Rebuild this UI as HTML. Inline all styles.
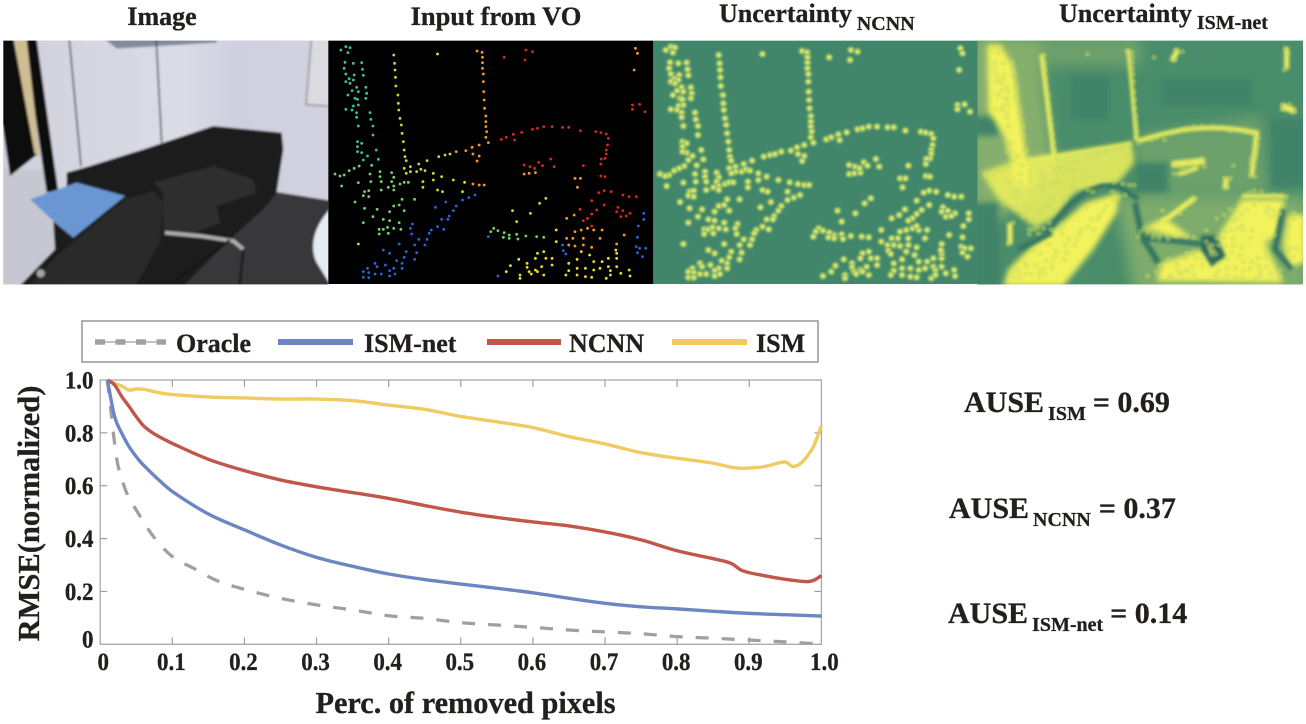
<!DOCTYPE html>
<html>
<head>
<meta charset="utf-8">
<style>
html,body{margin:0;padding:0;background:#fff;width:1306px;height:724px;overflow:hidden}
svg{display:block;position:absolute;left:0;top:0}
text{font-family:"Liberation Serif",serif;font-weight:bold;fill:#231f1c;stroke:#231f1c;stroke-width:.3}
</style>
</head>
<body>
<svg id="root" width="1306" height="724" viewBox="0 0 1306 724" xmlns="http://www.w3.org/2000/svg">
<defs>
<filter id="b1" x="-5%" y="-5%" width="110%" height="110%"><feGaussianBlur stdDeviation="1.6"/></filter>
<filter id="b4" x="-5%" y="-5%" width="110%" height="110%"><feGaussianBlur stdDeviation="3.5"/></filter>
<filter id="b5" x="-5%" y="-5%" width="110%" height="110%"><feGaussianBlur stdDeviation="5"/></filter>
<filter id="b9" x="-5%" y="-5%" width="110%" height="110%"><feGaussianBlur stdDeviation="9"/></filter>
<filter id="b20" x="-30%" y="-30%" width="160%" height="160%"><feGaussianBlur stdDeviation="20"/></filter>
<clipPath id="cp1"><rect x="10" y="14" width="975" height="731"/></clipPath>
<clipPath id="cp4"><rect x="8" y="14" width="976" height="731"/></clipPath>
<clipPath id="cpDots"><rect x="2348" y="122" width="780" height="730"/></clipPath>
<linearGradient id="wall" x1="0" y1="0" x2="1" y2="0"><stop offset="0" stop-color="#cfd0dc"/><stop offset=".55" stop-color="#dcdce6"/><stop offset=".7" stop-color="#cfcfdf"/><stop offset="1" stop-color="#d2d2e0"/></linearGradient>
</defs>

<g>
<text x="162" y="25" font-size="26" text-anchor="middle">Image</text>
<text x="496" y="25" font-size="26.5" text-anchor="middle">Input from VO</text>
<text x="719" y="22" font-size="26">Uncertainty<tspan font-size="20" dx="5" dy="8">NCNN</tspan></text>
<text x="1059" y="22" font-size="26">Uncertainty<tspan font-size="20" dx="5" dy="7">ISM-net</tspan></text>
</g>

<g transform="translate(0,36) scale(0.33333)" clip-path="url(#cp1)">
 <rect x="0" y="0" width="1000" height="760" fill="url(#wall)"/>
 <g filter="url(#b4)">
  <rect x="-20" y="-20" width="1040" height="800" fill="url(#wall)"/>
  <path d="M-20 400H170L200 780H-20Z" fill="#c6c7d0"/>
  <path d="M290 -10H655L650 20L350 38Z" fill="#858b9e"/>
  <path d="M207 0L243 390M468 0L485 320" stroke="#55555b" stroke-width="5" fill="none"/>
  <path d="M935 0L918 206L1010 212V0Z" fill="#dadae0" stroke="#a0a1a6" stroke-width="6"/>
  <path d="M-5 -5H72L112 355L30 420L8 270L-5 260Z" fill="#0f0d11"/>
  <path d="M70 -5H108L174 462L140 470Z" fill="#0f0d11"/>
  <path d="M38 -5H78L120 362L104 352Z" fill="#cfbe94"/>
  <path d="M830 468L1010 497V780H480L690 600L800 510Z" fill="#39393b"/>
  <path d="M200 410L270 390L430 340L640 270L845 290L850 340L830 470L800 510L690 610L520 780H30L165 640L160 560L200 450Z" fill="#1f1d1f"/>
  <path d="M460 440L640 390L760 430L770 470L650 510L490 470Z" fill="#2f2d2f"/>
  <path d="M490 470L650 510L660 560L560 600L490 580Z" fill="#2f2d2f"/>
  <path d="M90 490L230 440L375 480L220 605L165 560Z" fill="#6b97d4"/>
  <path d="M170 660L375 490L460 465L490 500L480 620L390 780H60Z" fill="#2c2a2b"/>
  <path d="M495 590L600 600L700 615L730 640" fill="none" stroke="#b0b0b0" stroke-width="11"/>
  <path d="M730 640L718 760M520 738L690 612" fill="none" stroke="#131313" stroke-width="7"/>
  <path d="M1000 510C945 560 925 630 950 680L1000 760Z" fill="#e6ecf3"/>
  <circle cx="122" cy="712" r="12" fill="#a5a5a3"/>
 </g>
</g>

<g transform="scale(0.416667,0.333333)">
  <rect x="788" y="122" width="780" height="730" fill="#000"/>
  <g id="voDots"></g>
  <rect x="1568" y="122" width="780" height="730" fill="#41866a"/>
  <g id="ncnnDots" filter="url(#b1)"></g>
</g>

<g transform="translate(975,36) scale(0.33333)" clip-path="url(#cp4)">
  <rect x="0" y="0" width="1000" height="760" fill="#4a8d6b"/>
  <g filter="url(#b20)" fill="#8fb56c">
    <path d="M-20 0H190L240 420L60 560H-20Z" opacity=".85"/>
    <path d="M190 0H500V90H190Z" opacity=".5"/>
    <path d="M470 300L860 240L880 470L500 470Z" opacity=".5"/>
    <path d="M420 480L1000 480V780H480Z" opacity=".75"/>
  </g>
  <g filter="url(#b9)" fill="#3f8369">
    <path d="M290 120H400V250H290Z"/><path d="M560 130H830V210H560Z"/><path d="M480 380H580V470H480Z"/>
    <path d="M890 250H1010V450H890Z"/><path d="M-20 500H70V780H-20Z"/><path d="M-20 240H70V300H-20Z"/>
  </g>
  <g filter="url(#b9)" fill="#f2f25c">
    <path d="M36 26H76L116 90L136 230L156 370L175 445L125 445L88 300L40 225Z"/>
    <path d="M20 410L130 370L470 320L478 380L430 440L300 470L240 545L180 575L70 490Z" opacity=".85"/>
    <path d="M85 750L100 700L170 630L260 560L330 500L435 468L425 530L355 640L265 750Z"/>
    <path d="M545 735L560 680L680 640L740 670L730 600L800 490L930 490L905 600L870 620L925 740Z"/>
    <path d="M505 575L600 605L650 605L570 545Z"/>
    <path d="M940 535H990V680L940 695L925 620Z"/>
  </g>
  <g filter="url(#b5)" fill="none" stroke="#eef05e">
    <path d="M200 55L240 385" stroke-width="14"/>
    <path d="M460 40L485 315" stroke-width="11"/>
    <path d="M490 315C600 280 700 260 845 290L830 420" stroke-width="14"/>
    <path d="M130 380L470 322" stroke-width="9"/>
    <path d="M935 35V100" stroke-width="15"/>
    <path d="M610 40L590 75" stroke-width="16"/>
    <path d="M920 210L960 225" stroke-width="20"/>
    <path d="M590 385L690 375" stroke-width="20"/>
    <path d="M610 415L670 395" stroke-width="12"/>
    <path d="M755 425L750 460" stroke-width="16"/>
    <path d="M660 485L560 560" stroke-width="16"/>
    <path d="M105 560V625" stroke-width="16"/>
    <path d="M800 480L930 480" stroke-width="12"/>
  </g>
  <g filter="url(#b5)" fill="none" stroke="#347462">
    <path d="M210 590L290 500L330 470L380 450L430 450L490 490" stroke-width="15"/>
    <path d="M130 640L230 590" stroke-width="16"/>
    <path d="M500 605L690 625" stroke-width="15"/>
    <path d="M925 520L900 640L950 700" stroke-width="16"/>
    <path d="M480 500L500 600L550 680" stroke-width="18"/>
    <path d="M680 600H720L750 660L710 690L680 640Z" fill="#2f6a5c" stroke-width="4"/>
    <path d="M700 625L712 660" stroke="#b8d06a" stroke-width="8"/>
  </g>
</g>

<g transform="scale(0.416667,0.333333)" clip-path="url(#cpDots)">
  <g id="ismDots" filter="url(#b1)"></g>
</g>

<g id="chart"></g>

<g>
<rect x="82" y="321" width="736" height="41" fill="#fff" stroke="#969696" stroke-width="1.5"/>
<line x1="95" y1="342" x2="166" y2="342" stroke="#a0a0a0" stroke-width="1.2"/>
<line x1="95" y1="342" x2="166" y2="342" stroke="#a0a0a0" stroke-width="5.5" stroke-dasharray="10 10.5"/>
<text x="176" y="352" font-size="26">Oracle</text>
<line x1="278" y1="342" x2="353" y2="342" stroke="#6c86c4" stroke-width="6"/>
<text x="364" y="352" font-size="26">ISM-net</text>
<line x1="487" y1="342" x2="561" y2="342" stroke="#c0574a" stroke-width="6"/>
<text x="569" y="352" font-size="26">NCNN</text>
<line x1="672" y1="342" x2="747" y2="342" stroke="#f0cb62" stroke-width="6"/>
<text x="756" y="352" font-size="26">ISM</text>
</g>

<g>
<text x="964" y="412" font-size="30">AUSE<tspan font-size="20" dx="4" dy="8">ISM</tspan><tspan dx="7" dy="-8">= 0.69</tspan></text>
<text x="949" y="518" font-size="30">AUSE<tspan font-size="20" dx="4" dy="8">NCNN</tspan><tspan dx="8" dy="-8">= 0.37</tspan></text>
<text x="948" y="623" font-size="30">AUSE<tspan font-size="20" dx="4" dy="8">ISM-net</tspan><tspan dx="7" dy="-8">= 0.14</tspan></text>
</g>
</svg>

<script>
// Chart data
const xTicks = [0, 0.1, 0.2, 0.3, 0.4, 0.5, 0.6, 0.7, 0.8, 0.9, 1.0];
const xTickLabels = ['0', '0.1', '0.2', '0.3', '0.4', '0.5', '0.6', '0.7', '0.8', '0.9', '1.0'];
const yTicks = [0, 0.2, 0.4, 0.6, 0.8, 1.0];
const yTickLabels = ['0', '0.2', '0.4', '0.6', '0.8', '1.0'];

const oracleX = [0.01,0.015,0.02,0.025,0.037,0.05,0.074,0.1,0.13,0.16,0.2,0.25,0.3,0.35,0.4,0.45,0.5,0.55,0.6,0.65,0.7,0.75,0.8,0.85,0.9,0.95,1.0];
const oracleY = [1,0.88,0.76,0.672,0.571,0.508,0.407,0.332,0.287,0.243,0.208,0.174,0.149,0.13,0.108,0.098,0.082,0.073,0.064,0.054,0.047,0.04,0.029,0.023,0.016,0.009,0.001];

const ismNetX = [0.01,0.02,0.03,0.04,0.05,0.06,0.08,0.1,0.15,0.2,0.25,0.3,0.35,0.4,0.45,0.5,0.55,0.6,0.65,0.7,0.75,0.8,0.85,0.9,0.95,1.0];
const ismNetY = [1,0.861,0.798,0.748,0.71,0.678,0.625,0.578,0.493,0.433,0.376,0.329,0.295,0.266,0.245,0.228,0.212,0.195,0.174,0.155,0.142,0.134,0.125,0.117,0.112,0.107];

const ncnnX = [0.01,0.02,0.03,0.04,0.05,0.06,0.07,0.08,0.1,0.15,0.2,0.25,0.3,0.35,0.4,0.45,0.5,0.55,0.6,0.65,0.7,0.75,0.8,0.85,0.875,0.89,0.92,0.95,0.98,0.99,1.0];
const ncnnY = [1,0.981,0.937,0.9,0.861,0.827,0.805,0.788,0.76,0.7,0.657,0.622,0.596,0.574,0.552,0.525,0.5,0.48,0.463,0.448,0.425,0.395,0.354,0.324,0.306,0.279,0.26,0.246,0.237,0.243,0.26];

const ismX = [0.01,0.02,0.03,0.04,0.05,0.06,0.08,0.1,0.15,0.2,0.25,0.3,0.35,0.4,0.45,0.5,0.55,0.6,0.65,0.7,0.75,0.8,0.85,0.875,0.89,0.92,0.95,0.96,0.97,0.98,0.99,1.0];
const ismY = [1,0.987,0.977,0.962,0.966,0.965,0.953,0.945,0.936,0.932,0.928,0.928,0.922,0.905,0.889,0.862,0.842,0.82,0.786,0.758,0.725,0.704,0.685,0.67,0.666,0.672,0.69,0.673,0.682,0.71,0.754,0.827];

// VO sample points, grouped by colour (photo-panel decoration)
const tealPts = "830,140 840,143 818,150 835,158 828,187 848,190 868,188 826,205 870,208 830,222 850,225 872,226 838,236 830,245 848,240 840,250 856,262 878,262 845,272 860,275 880,280 835,285 852,295 878,295 858,298 860,315 848,318 830,328 845,330 888,338 856,338 856,352 890,358 860,378 895,378 895,405 858,425 868,430 858,440 868,458 858,455 903,450 882,468 872,480 908,478";
const greenPts = "862,498 850,505 838,512 826,525 804,522 816,528 888,522 892,496 912,515 890,545 860,548 820,558 912,530 915,545 940,518 945,532 940,545 960,552 945,558 932,562 970,547 980,547 875,575 885,572 872,587 885,590 915,570 945,570 852,606 875,625 905,628 935,635 945,618 958,615 970,632 895,650 920,658 935,662 958,668 872,668 910,688 920,688 930,682 945,685 962,688 910,702 932,700 965,598 995,598 1185,685 1178,695 1195,692 1210,698 1222,705 1240,703 1208,712 1222,715 1243,717 1262,708 1288,710 1305,712";
const limePts = "945,165 947,190 948,210 949,232 950,258 955,285 956,310 957,330 960,355 963,375 965,400 968,425 970,450 972,470 975,482 970,505 985,500 1005,492 1025,482 1053,470 1068,465 1080,462 1000,515 985,515 975,520 1010,508 1020,512 1040,520 1060,530 1040,540 1015,545 1015,562 1088,540 1050,570 1062,575 1110,575 860,732 1230,632 1273,640 1240,665 1295,610 1310,595";
const yellowPts = "1050,162 1115,547 1245,778 1225,797 1215,815 1248,825 1248,835 1265,790 1265,802 1290,760 1305,755 1285,775 1310,775 1325,775 1270,815 1285,810 1300,800 1325,795 1275,822 1290,815 1305,825 1365,790 1385,778 1395,755 1415,765 1425,785 1445,785 1460,775 1480,775 1365,812 1358,825 1385,805 1405,805 1425,810 1440,805 1460,800 1465,812 1480,800 1405,830 1420,832 1385,825 1455,835 1465,825 1490,820 1510,810 1512,828 1480,760 1478,750 1335,690 1335,725";
const orangePts = "1145,153 1157,157 1158,172 1158,188 1158,205 1160,222 1160,245 1161,275 1162,300 1163,325 1166,348 1166,365 1166,380 1168,395 1166,412 1172,428 1150,435 1133,442 1118,452 1095,455 1135,462 1150,468 1145,483 1135,552 1150,555 1162,555 1525,145 1530,160 1522,210 1258,522 1270,520 1285,518 1380,535 1393,535 1386,562 1360,655 1378,645 1380,695 1395,690 1410,685 1425,690 1445,690 1360,715 1375,715 1400,715 1420,742 1440,715 1365,735 1380,738 1400,735 1480,732 1498,705";
const redPts = "1210,172 1262,150 1278,155 1260,180 1518,315 1535,313 1518,328 1548,335 1203,418 1215,412 1232,403 1235,420 1252,397 1278,388 1290,385 1305,380 1325,380 1350,382 1365,382 1393,392 1430,395 1442,398 1455,402 1460,415 1458,435 1455,450 1455,462 1452,475 1443,477 1442,492 1258,495 1272,500 1293,487 1322,477 1302,497 1330,500 1283,505 1400,497 1442,528 1452,530 1450,572 1437,578 1467,575 1495,585 1510,590 1527,590 1420,602 1483,622 1495,632 1480,635 1512,640 1490,650 1503,648 1432,630 1420,642 1392,628 1450,615 1410,655 1400,662 1420,678";
const bluePts = "1045,622 1070,606 1095,618 1088,632 1060,658 1078,648 1075,658 1050,680 1035,690 1065,688 990,672 985,685 1030,700 1025,718 1005,718 988,702 1020,735 995,735 958,732 920,750 935,760 975,755 970,772 1000,758 995,778 952,782 965,790 900,790 882,805 905,800 925,795 945,805 965,805 935,812 872,815 885,818 900,822 915,822 935,828 948,822 872,832 885,833 1125,593 1140,585 1110,600 1172,710 1350,735 1352,752 1358,762 1195,828 1530,712 1527,740 1535,745 1550,745 1530,758 1542,770 1545,640 1545,658 1532,678";

const NS = 'http://www.w3.org/2000/svg';
const plotLeft = 100.2, plotRight = 821.4, plotTop = 380, plotBottom = 644.3;
function xScale(v) { return plotLeft + v * (plotRight - plotLeft); }
function yScale(v) { return plotBottom - v * (plotBottom - plotTop); }
function make(tag, attrs, parent) {
  const el = document.createElementNS(NS, tag);
  for (const k in attrs) el.setAttribute(k, attrs[k]);
  parent.appendChild(el);
  return el;
}
const chart = document.getElementById('chart');

const frame = make('rect', {x: plotLeft, y: plotTop, width: plotRight - plotLeft, height: plotBottom - plotTop, fill: 'none', stroke: '#a8a8a8', 'stroke-width': 1.3}, chart);



xTicks.forEach(function (t, i) {
  const px = xScale(t);
  if (i > 0 && i < xTicks.length - 1) {
    const a = make('line', {x1: px, x2: px, y1: plotBottom, y2: plotBottom - 7, stroke: '#a0a0a0', 'stroke-width': 1.2}, chart);
    
    
    const b = make('line', {x1: px, x2: px, y1: plotTop, y2: plotTop + 7, stroke: '#a0a0a0', 'stroke-width': 1.2}, chart);
    
    
  }
  const lx = i === 0 ? px + 3 : (i === xTicks.length - 1 ? px + 3 : px - 1);
  const label = make('text', {transform: 'translate(' + lx + ',670) scale(.9,1)', 'font-size': 25.5, 'text-anchor': 'middle'}, chart);
  label.textContent = xTickLabels[i];
  
  
});
yTicks.forEach(function (t, i) {
  const py = yScale(t);
  if (i > 0 && i < yTicks.length - 1) {
    const a = make('line', {x1: plotLeft, x2: plotLeft + 7, y1: py, y2: py, stroke: '#a0a0a0', 'stroke-width': 1.2}, chart);
    
    
    const b = make('line', {x1: plotRight, x2: plotRight - 7, y1: py, y2: py, stroke: '#a0a0a0', 'stroke-width': 1.2}, chart);
    
    
  }
  const ly = i === 0 ? py + 3 : py + 8.5;
  const label = make('text', {transform: 'translate(93.5,' + ly + ') scale(.9,1)', 'font-size': 25.5, 'text-anchor': 'end'}, chart);
  label.textContent = yTickLabels[i];
  
  
});

function pathFrom(xs, ys) {
  const p = xs.map(function (x, i) { return [xScale(x), yScale(ys[i])]; });
  let d = 'M' + p[0][0].toFixed(2) + ' ' + p[0][1].toFixed(2);
  for (let i = 0; i < p.length - 1; i++) {
    const a = p[Math.max(i - 1, 0)], b = p[i], c = p[i + 1], e = p[Math.min(i + 2, p.length - 1)];
    const dxSeg = c[0] - b[0];
    const k1 = dxSeg / Math.max(c[0] - a[0], 0.01) / 3;
    const k2 = dxSeg / Math.max(e[0] - b[0], 0.01) / 3;
    d += 'C' + (b[0] + (c[0] - a[0]) * k1).toFixed(2) + ' ' + (b[1] + (c[1] - a[1]) * k1).toFixed(2) + ' ' +
         (c[0] - (e[0] - b[0]) * k2).toFixed(2) + ' ' + (c[1] - (e[1] - b[1]) * k2).toFixed(2) + ' ' +
         c[0].toFixed(2) + ' ' + c[1].toFixed(2);
  }
  return d;
}
const oracleLine = make('path', {d: pathFrom(oracleX, oracleY), fill: 'none', stroke: '#a0a0a0', 'stroke-width': 3.3, 'stroke-dasharray': '13 13'}, chart);


const ismLine = make('path', {d: pathFrom(ismX, ismY), fill: 'none', stroke: '#f0cb62', 'stroke-width': 3.4, 'stroke-linejoin': 'round'}, chart);


const ncnnLine = make('path', {d: pathFrom(ncnnX, ncnnY), fill: 'none', stroke: '#c0574a', 'stroke-width': 3.4, 'stroke-linejoin': 'round'}, chart);


const ismNetLine = make('path', {d: pathFrom(ismNetX, ismNetY), fill: 'none', stroke: '#6c86c4', 'stroke-width': 3.4, 'stroke-linejoin': 'round'}, chart);



const xTitle = make('text', {x: 465.5, y: 713, 'font-size': 30.3, 'text-anchor': 'middle'}, chart);
xTitle.textContent = 'Perc. of removed pixels';


const yTitle = make('text', {transform: 'translate(39,513.5) rotate(-90)', 'font-size': 30.5, 'text-anchor': 'middle'}, chart);
yTitle.textContent = 'RMSE(normalized)';



const dotGroups = [[tealPts, '#3fc097'], [greenPts, '#72d26a'], [limePts, '#c6d83e'], [yellowPts, '#ecdc2e'], [orangePts, '#ee9a28'], [redPts, '#d8281e'], [bluePts, '#2b62d8']];
const vo = document.getElementById('voDots');
const ncnn = document.getElementById('ncnnDots');
const ismLayer = document.getElementById('ismDots');
dotGroups.forEach(function (g) {
  g[0].split(' ').forEach(function (p) {
    const c = p.split(',');
    const cx = +c[0], cy = +c[1];
    const d = make('ellipse', {cx: cx, cy: cy, rx: 3.4, ry: 4.2, fill: g[1]}, vo);
    
    
    const halo = make('ellipse', {cx: cx + 780, cy: cy, rx: 10, ry: 12.5, fill: '#8fbd6e', opacity: 0.6}, ncnn);
    
    
    const n = make('ellipse', {cx: cx + 780, cy: cy, rx: 5.6, ry: 7, fill: '#d3e268'}, ncnn);
    
    
    const m = make('ellipse', {cx: cx + 1560, cy: cy, rx: 7, ry: 8.5, fill: '#c9dc62', opacity: 0.4}, ismLayer);
    
    
  });
});
</script>
</body>
</html>
